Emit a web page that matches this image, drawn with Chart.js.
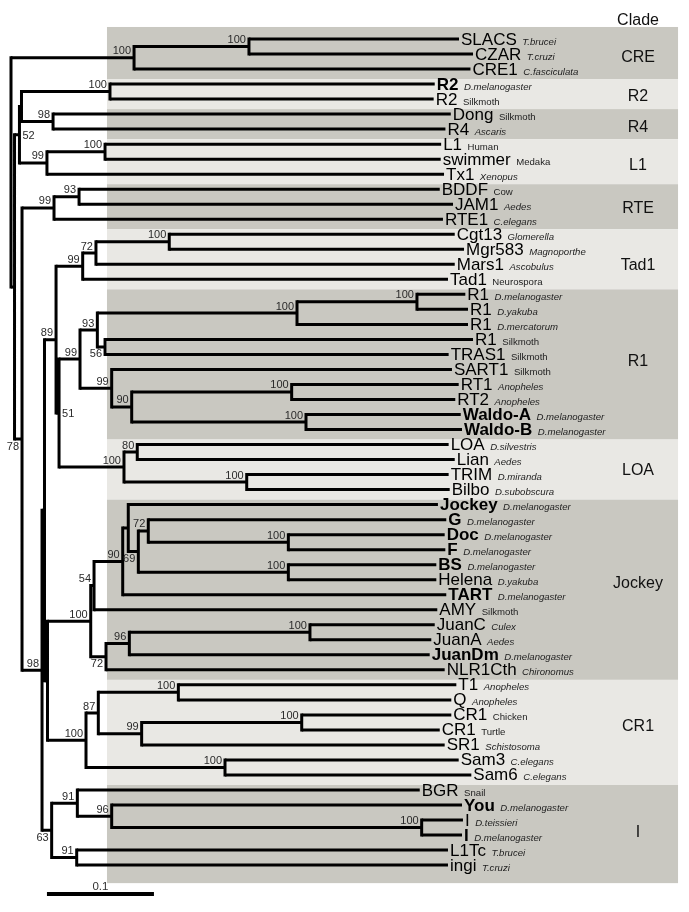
<!DOCTYPE html>
<html><head><meta charset="utf-8">
<script src="https://cdn.jsdelivr.net/npm/chart.js@4/dist/chart.umd.min.js"></script>
<style>html,body{margin:0;padding:0;background:#fff;}canvas{display:block;}</style>
</head><body>
<canvas id="c" width="689" height="912"></canvas>
<script>
// ---------------- DATA ----------------
const leafNames = ['SLACS','CZAR','CRE1','R2','R2','Dong','R4','L1','swimmer','Tx1','BDDF','JAM1','RTE1',
  'Cgt13','Mgr583','Mars1','Tad1','R1','R1','R1','R1','TRAS1','SART1','RT1','RT2','Waldo-A','Waldo-B',
  'LOA','Lian','TRIM','Bilbo','Jockey','G','Doc','F','BS','Helena','TART','AMY','JuanC','JuanA','JuanDm','NLR1Cth',
  'T1','Q','CR1','CR1','SR1','Sam3','Sam6','BGR','You','I','I','L1Tc','ingi'];
const leafHosts = ['T.brucei','T.cruzi','C.fasciculata','D.melanogaster','Silkmoth','Silkmoth','Ascaris','Human','Medaka','Xenopus',
  'Cow','Aedes','C.elegans','Glomerella','Magnoporthe','Ascobulus','Neurospora','D.melanogaster','D.yakuba','D.mercatorum',
  'Silkmoth','Silkmoth','Silkmoth','Anopheles','Anopheles','D.melanogaster','D.melanogaster','D.silvestris','Aedes','D.miranda',
  'D.subobscura','D.melanogaster','D.melanogaster','D.melanogaster','D.melanogaster','D.melanogaster','D.yakuba','D.melanogaster',
  'Silkmoth','Culex','Aedes','D.melanogaster','Chironomus','Anopheles','Anopheles','Chicken','Turtle','Schistosoma','C.elegans',
  'C.elegans','Snail','D.melanogaster','D.teissieri','D.melanogaster','T.brucei','T.cruzi'];
// distance from root (substitutions per site) at the tip of each leaf
const leafDepths = [0.4187,0.4318,0.4294,0.3960,0.3950,0.4110,0.4060,0.4020,0.4016,0.4047,0.4007,0.4131,0.4037,
  0.4147,0.4234,0.4147,0.4084,0.4246,0.4271,0.4271,0.4318,0.4090,0.4121,0.4184,0.4152,0.4203,0.4215,
  0.4090,0.4147,0.4090,0.4100,0.3990,0.4068,0.4053,0.4059,0.3975,0.3975,0.4068,0.3984,0.3960,0.3928,0.3913,0.4053,
  0.4162,0.4115,0.4115,0.4007,0.4053,0.4184,0.4302,0.3820,0.4215,0.4224,0.4215,0.4084,0.4084];
const leafParents = ['SC','SC','CRE','R2','R2','R4','R4','L1','L1','L1c','RTE93','RTE93','RTE',
  'Tad100','Tad100','Tad72','Tad','R1c','R1c','R1b','R1d','R1d','SART','RT','RT','Waldo','Waldo',
  'LOA80','LOA80','TB','TB','JkA','Jk72','DF','DF','BH','BH','Jk90','Jk54','JCA','JCA','Juan96','Juan',
  'TQ','TQ','CRp','CRp','CR99','Sam','Sam','I91a','I96','Ip','Ip','I91b','I91b'];
const boldLeaves = [3,25,26,31,32,33,34,35,37,41,51,53];

// internal nodes
const nodeIds = ['root','X','CRE','SC','N52','R2R4','R2','R4','L1c','L1','N78','RTE','RTE93','N98','P','N89',
  'Tad','Tad72','Tad100','N51','R1','R1a','R1b','R1c','R1d','SART','R1e','RT','Waldo','LOA','LOA80','TB',
  'J','Jk','Jk54','Jk90','JkA','Jk69','Jk72','DF','BH','Juan','Juan96','JCA','CR1','CR87','TQ','CR99','CRp','Sam',
  'N63','I91a','I96','Ip','I91b'];
const nodeParents = [null,'root','root','CRE','X','N52','R2R4','R2R4','N52','L1c','X','N78','RTE','N78','N98','P',
  'N89','Tad','Tad72','N89','N51','R1','R1a','R1b','R1a','R1','SART','R1e','R1e','N51','LOA','LOA',
  'P','J','Jk','Jk54','Jk90','JkA','Jk69','Jk72','Jk69','Jk','Juan','Juan96','J','CR1','CR87','CR87','CR99','CR1',
  'N98','N63','I91a','I96','N63'];
const nodeDepths = [0,0.0033,0.1150,0.2224,0.0079,0.0098,0.0925,0.0393,0.0336,0.0879,0.0103,0.0402,0.0636,0.0290,0.0313,0.0421,
  0.0670,0.0794,0.1479,0.0449,0.0645,0.0807,0.2673,0.3794,0.0879,0.0941,0.1128,0.2623,0.2757,0.1056,0.1180,0.2203,
  0.0341,0.0745,0.0776,0.1044,0.1096,0.1190,0.1283,0.2592,0.2592,0.0888,0.1106,0.2794,0.0701,0.0816,0.1564,0.1221,0.2717,0.2000,
  0.0380,0.0620,0.0941,0.3838,0.0614];
const nodeSupport = ['','',100,100,52,'',100,98,99,100,78,99,93,98,'',89,
  99,72,100,51,99,93,100,100,56,99,90,100,100,100,80,100,
  '',100,54,90,'',69,72,100,100,72,96,100,100,87,100,99,100,100,
  63,91,96,100,91];

const cladeNames = ['CRE','R2','R4','L1','RTE','Tad1','R1','LOA','Jockey','CR1','I'];
const cladeFirstLeaf = [0,3,5,7,10,13,17,27,31,43,50];
const cladeLastLeaf  = [2,4,6,9,12,16,26,30,42,49,55];
const cladeHeader = 'Clade';
const scaleBarLength = 0.1;
const scaleBarLabel = '0.1';

// ---------------- LAYOUT / STYLE ----------------
const supportBelow = ['N78','R1d','Jk69','Juan','N63'];
const supportRight = ['N52','N51'];
const uprightHosts = ['Silkmoth','Human','Medaka','Cow','Neurospora','Chicken','Turtle','Snail'];
const cladeLabelRows = [1.26,3.86,5.89,8.46,11.32,15.11,21.47,28.76,36.28,45.81,52.86];
const cladeHeaderRow = -1.2;
const cladeColumnX = 0.586;
const bandLeftX = 0.0897, bandRightX = 0.6234;
const scaleBarX = 0.0336, scaleBarRow = 56.92;
const DARK = '#c9c8c1', LIGHT = '#e9e8e4';
const FONT = '"Liberation Sans", Arial, Helvetica, sans-serif';

// ---------------- TREE GEOMETRY ----------------
const nIdx = {}; nodeIds.forEach((id, i) => nIdx[id] = i);
const kids = nodeIds.map(() => []);
leafParents.forEach((p, i) => kids[nIdx[p]].push({leaf: true, i}));
nodeParents.forEach((p, i) => { if (p) kids[nIdx[p]].push({leaf: false, i}); });
const nodeY = [];
function childY(c) { return c.leaf ? c.i : nodeRow(c.i); }
function nodeRow(i) {
  if (nodeY[i] !== undefined) return nodeY[i];
  const ys = kids[i].map(childY);
  nodeY[i] = (Math.min(...ys) + Math.max(...ys)) / 2;
  return nodeY[i];
}
nodeIds.forEach((_, i) => nodeRow(i));

const GAP = {x: null, y: null};
const horiz = [], vert = [];
leafNames.forEach((_, i) => {
  const pd = nodeDepths[nIdx[leafParents[i]]];
  horiz.push({x: pd, y: i}, {x: leafDepths[i], y: i}, GAP);
});
nodeIds.forEach((id, i) => {
  const p = nodeParents[i];
  if (p) horiz.push({x: nodeDepths[nIdx[p]], y: nodeY[i]}, {x: nodeDepths[i], y: nodeY[i]}, GAP);
  const ys = kids[i].map(childY);
  vert.push({x: nodeDepths[i], y: Math.min(...ys)}, {x: nodeDepths[i], y: Math.max(...ys)}, GAP);
});

// ---------------- PLUGINS ----------------
const bandsPlugin = {
  id: 'bands',
  beforeDatasetsDraw(chart) {
    const {ctx, scales: {x, y}} = chart;
    ctx.save();
    const n = cladeNames.length;
    for (let k = 0; k < n; k++) {
      const top = k === 0 ? cladeFirstLeaf[k] - 0.8 : cladeLastLeaf[k - 1] + 0.667;
      const bot = k === n - 1 ? cladeLastLeaf[k] + 1.2 : cladeLastLeaf[k] + 0.667;
      const x0 = x.getPixelForValue(bandLeftX), x1 = x.getPixelForValue(bandRightX);
      const y0 = y.getPixelForValue(top), y1 = y.getPixelForValue(bot);
      ctx.fillStyle = k % 2 === 0 ? DARK : LIGHT;
      ctx.fillRect(x0, y0, x1 - x0, y1 - y0);
    }
    ctx.restore();
  }
};

const textPlugin = {
  id: 'texts',
  afterDatasetsDraw(chart) {
    const {ctx, scales: {x, y}} = chart;
    ctx.save();
    // leaf labels
    ctx.textBaseline = 'alphabetic';
    ctx.textAlign = 'left';
    leafNames.forEach((name, i) => {
      const bx = x.getPixelForValue(leafDepths[i]) + 2;
      const by = y.getPixelForValue(i) + 5.5;
      ctx.font = (boldLeaves.includes(i) ? 'bold ' : '') + '17px ' + FONT;
      ctx.fillStyle = '#000';
      ctx.fillText(name, bx, by);
      const w = ctx.measureText(name).width;
      const host = leafHosts[i];
      ctx.font = (uprightHosts.includes(host) ? '' : 'italic ') + '9.6px ' + FONT;
      ctx.fillStyle = '#222';
      ctx.fillText(host, bx + w + 5.5, by);
    });
    // bootstrap values
    ctx.font = '11px ' + FONT;
    ctx.fillStyle = '#2a2a2a';
    nodeIds.forEach((id, i) => {
      const s = nodeSupport[i];
      if (s === '' || s === null) return;
      const nx = x.getPixelForValue(nodeDepths[i]);
      const ny = y.getPixelForValue(nodeY[i]);
      if (supportRight.includes(id)) {
        ctx.textAlign = 'left';
        ctx.fillText(String(s), nx + 3, ny + 4);
      } else if (supportBelow.includes(id)) {
        ctx.textAlign = 'right';
        ctx.fillText(String(s), nx - 3, ny + 10.5);
      } else {
        ctx.textAlign = 'right';
        ctx.fillText(String(s), nx - 3, ny - 3.5);
      }
    });
    // clade column
    ctx.textAlign = 'center';
    ctx.textBaseline = 'middle';
    ctx.fillStyle = '#111';
    ctx.font = '16px ' + FONT;
    const cx = x.getPixelForValue(cladeColumnX);
    ctx.fillText(cladeHeader, cx, y.getPixelForValue(cladeHeaderRow));
    cladeNames.forEach((c, k) => ctx.fillText(c, cx, y.getPixelForValue(cladeLabelRows[k])));
    // scale bar label
    ctx.font = '11.5px ' + FONT;
    ctx.fillStyle = '#333';
    ctx.textBaseline = 'alphabetic';
    ctx.fillText(scaleBarLabel, x.getPixelForValue(scaleBarX + scaleBarLength / 2), y.getPixelForValue(scaleBarRow) - 4);
    ctx.restore();
  }
};

// ---------------- CHART ----------------
new Chart(document.getElementById('c'), {
  type: 'scatter',
  data: {
    datasets: [
      {data: horiz, showLine: true, spanGaps: false, borderColor: '#000', borderWidth: 3,
       borderCapStyle: 'butt', pointRadius: 0, pointHoverRadius: 0, tension: 0},
      {data: vert, showLine: true, spanGaps: false, borderColor: '#000', borderWidth: 3,
       borderCapStyle: 'square', pointRadius: 0, pointHoverRadius: 0, tension: 0},
      {data: [{x: scaleBarX, y: scaleBarRow}, {x: scaleBarX + scaleBarLength, y: scaleBarRow}],
       showLine: true, borderColor: '#000', borderWidth: 4, borderCapStyle: 'butt', pointRadius: 0, pointHoverRadius: 0}
    ]
  },
  options: {
    responsive: false,
    animation: false,
    devicePixelRatio: 1,
    layout: {padding: 0},
    plugins: {legend: {display: false}, tooltip: {enabled: false}},
    events: [],
    scales: {
      x: {type: 'linear', display: false, min: -11 / 1070, max: 678 / 1070},
      y: {type: 'linear', display: false, reverse: true, min: -39 / 15.02, max: 873 / 15.02}
    }
  },
  plugins: [bandsPlugin, textPlugin]
});
</script>
</body></html>
